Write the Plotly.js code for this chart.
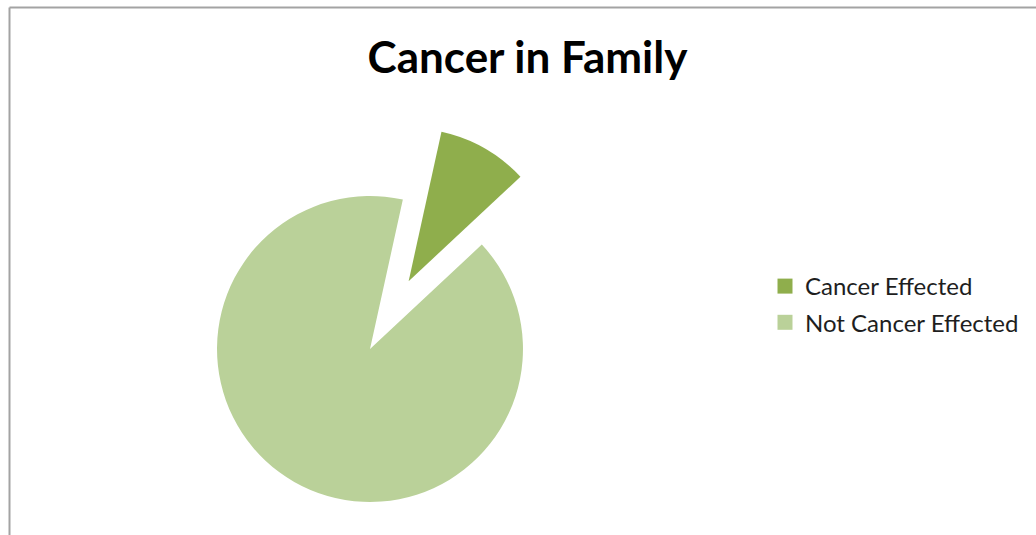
<!DOCTYPE html>
<html>
<head>
<meta charset="utf-8">
<script src="https://cdn.plot.ly/plotly-3.0.1.min.js"></script>
<style>
html, body { margin: 0; padding: 0; overflow: hidden; background: #ffffff; }
#chart { width: 1036px; height: 600px; }
</style>
</head>
<body>
<div id="chart"></div>
<script>
// Data
const labels = ["Cancer Effected", "Not Cancer Effected"];
const values = [9.6, 90.4];
const sliceColors = ["#8fae4c", "#bad199"];
const pulls = [0.51, 0];

const W = 1036, H = 600;

const pieTrace = {
  type: "pie",
  labels: labels,
  values: values,
  sort: false,
  direction: "clockwise",
  rotation: 12.4,
  pull: pulls,
  textinfo: "none",
  hoverinfo: "label+percent",
  showlegend: false,
  marker: { colors: sliceColors, line: { width: 0 } },
  domain: { x: [139 / W, 601 / W], y: [1 - 580 / H, 1 - 118 / H] }
};

// legend entries (one per slice, built from the same arrays)
const legendTraces = labels.map((lab, i) => ({
  type: "scatter",
  mode: "markers",
  x: [null],
  y: [null],
  name: lab,
  legendgroup: "g" + i,
  showlegend: true,
  hoverinfo: "skip",
  marker: { symbol: "square", size: 15, color: sliceColors[i] }
}));

const layout = {
  width: W,
  height: H,
  margin: { l: 0, r: 0, t: 0, b: 0, pad: 0 },
  paper_bgcolor: "#ffffff",
  plot_bgcolor: "rgba(0,0,0,0)",
  xaxis: { visible: false },
  yaxis: { visible: false },
  title: {
    text: "Cancer in Family",
    font: { family: "Lato, 'Open Sans', sans-serif", size: 44, color: "#000000", weight: 700 },
    x: 527.5 / W,
    xref: "container",
    xanchor: "center",
    y: 1 - 58 / H,
    yref: "container",
    yanchor: "middle"
  },
  showlegend: true,
  legend: {
    x: 765 / W,
    xanchor: "left",
    y: 1 - 304.5 / H,
    yanchor: "middle",
    traceorder: "grouped",
    tracegroupgap: 2,
    bgcolor: "rgba(0,0,0,0)",
    font: { family: "Lato, 'Open Sans', sans-serif", size: 24, color: "#1e1e1e" }
  },
  shapes: [
    { type: "line", xref: "paper", yref: "paper", x0: 9.5 / W, x1: 1.01, y0: 1 - 7.5 / H, y1: 1 - 7.5 / H,
      line: { color: "#a3a3a3", width: 2 } },
    { type: "line", xref: "paper", yref: "paper", x0: 9.5 / W, x1: 9.5 / W, y0: 1 - 7.5 / H, y1: -0.01,
      line: { color: "#a3a3a3", width: 2 } }
  ]
};

Plotly.newPlot("chart", [pieTrace].concat(legendTraces), layout, { displayModeBar: false, staticPlot: true });
</script>
</body>
</html>
